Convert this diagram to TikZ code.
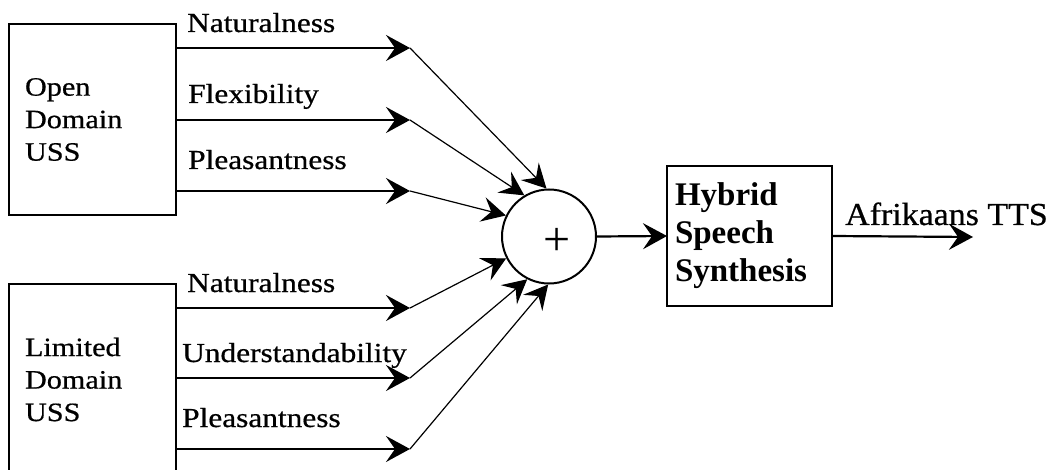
\documentclass[tikz,border=0pt]{standalone}
\usepackage{fontspec}
\setmainfont{Liberation Serif}
\newfontfamily\widefont{Liberation Serif}[FakeStretch=1.14,FakeBold=0.6]
\newfontfamily\outfont{Liberation Serif}[FakeStretch=1.06,FakeBold=0.6]
\usetikzlibrary{arrows.meta}

\begin{document}
\begin{tikzpicture}[x=1pt,y=-1pt,
  blockbox/.style={draw, line width=2pt, align=left, inner ysep=0pt, outer sep=0pt},
  srcbox/.style={blockbox, minimum width=167pt, minimum height=191pt,
    text width=135pt, inner xsep=16pt,
    font=\widefont\fontsize{26.5}{32.5}\selectfont},
  lbl/.style={anchor=base west, inner sep=0pt,
    font=\widefont\fontsize{27.5}{27.5}\selectfont},
  feed/.style={line width=2.2pt, -{Stealth[length=24pt,width=26pt,inset=9pt]}},
  merge/.style={line width=1.2pt, -{Stealth[length=24pt,width=25pt,inset=9pt]}}]

  % page frame
  \useasboundingbox (0,0) rectangle (1056,470);
  \clip (0,0) rectangle (1056,470);
  \fill[white] (0,0) rectangle (1056,470);

  % synthesis sources
  \node[srcbox] (openbox) at (92.5,119.5) {Open\\Domain\\USS};
  \node[srcbox] (limitbox) at (92.5,379.5) {Limited\\Domain\\USS};

  % summing junction and hybrid block
  \node[draw, circle, line width=2pt, minimum size=94pt, inner sep=0pt] (sum) at (549,236.5) {};
  \node[inner sep=0pt, font=\fontsize{48}{48}\selectfont] (plus) at (557,242) {+};
  \node[blockbox, minimum width=165pt, minimum height=140pt, text width=149pt,
        inner xsep=8pt, font=\bfseries\fontsize{33}{38}\selectfont]
        (hybrid) at (749.5,236) {Hybrid\\Speech\\Synthesis};

  % quality attributes
  \node[lbl] (nat1) at (187,32) {Naturalness};
  \node[lbl] (flex) at (188,103) {Flexibility};
  \node[lbl] (plea1) at (188,169) {Pleasantness};
  \node[lbl] (nat2) at (187,292) {Naturalness};
  \node[lbl] (und) at (182,362) {Understandability};
  \node[lbl] (plea2) at (182,427) {Pleasantness};

  % attribute arrow tips
  \coordinate (u1) at (410,48);
  \coordinate (u2) at (410,120);
  \coordinate (u3) at (410,191);
  \coordinate (l1) at (410,308);
  \coordinate (l2) at (410,378);
  \coordinate (l3) at (410,449);
  \coordinate (tts) at (973,237);

  \draw[feed] (openbox.east |- u1) -- (u1);
  \draw[feed] (openbox.east |- u2) -- (u2);
  \draw[feed] (openbox.east |- u3) -- (u3);
  \draw[feed] (limitbox.east |- l1) -- (l1);
  \draw[feed] (limitbox.east |- l2) -- (l2);
  \draw[feed] (limitbox.east |- l3) -- (l3);

  \draw[merge] (u1) -- (sum.93);
  \draw[merge] (u2) -- (sum.121);
  \draw[merge] (u3) -- (sum.154);
  \draw[merge] (l1) -- (sum.207);
  \draw[merge] (l2) -- (sum.243);
  \draw[merge] (l3) -- (sum.269);

  \draw[feed] (sum.east) -- (hybrid.west);
  \draw[feed] (hybrid.east) -- (tts);
  \node[anchor=base west, inner sep=0pt, font=\outfont\fontsize{32}{32}\selectfont]
        (ttslbl) at (845,225) {Afrikaans TTS};
\end{tikzpicture}
\end{document}
